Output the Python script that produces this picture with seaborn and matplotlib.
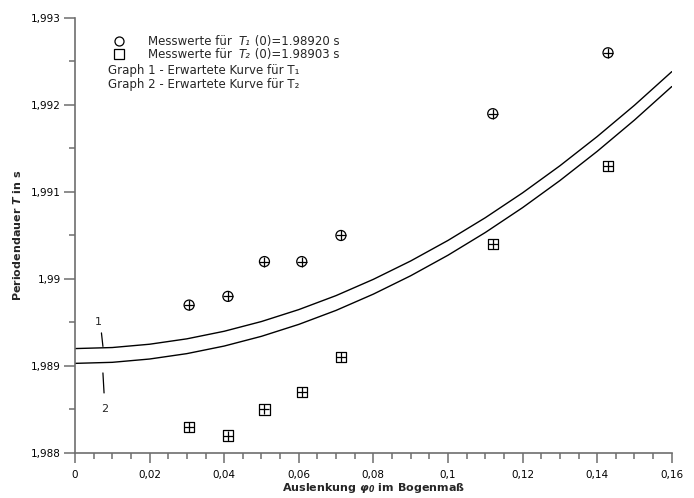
"""
Periodendauer eines Pendels in Abhängigkeit von der Auslenkung
Messwerte und erwartete Kurven
"""

import numpy as np
import pandas as pd
import matplotlib
matplotlib.use('Agg')
import matplotlib.pyplot as plt
import seaborn as sns
from matplotlib.ticker import MultipleLocator, FuncFormatter

phi_mess = [0.0306, 0.0410, 0.0508, 0.0608, 0.0713, 0.1120, 0.1429]
t1_mess = [1.9897, 1.9898, 1.9902, 1.9902, 1.9905, 1.9919, 1.9926]
t2_mess = [1.9883, 1.9882, 1.9885, 1.9887, 1.9891, 1.9904, 1.9913]

phi_kurve = [0.00, 0.01, 0.02, 0.03, 0.04, 0.05, 0.06, 0.07, 0.08,
             0.09, 0.10, 0.11, 0.12, 0.13, 0.14, 0.15, 0.16]
t1_kurve = [1.989200, 1.989212, 1.989250, 1.989312, 1.989399, 1.989511,
            1.989648, 1.989809, 1.989996, 1.990207, 1.990443, 1.990704,
            1.990990, 1.991301, 1.991637, 1.991997, 1.992383]
t2_kurve = [1.989030, 1.989042, 1.989080, 1.989142, 1.989229, 1.989341,
            1.989478, 1.989639, 1.989826, 1.990037, 1.990273, 1.990534,
            1.990820, 1.991131, 1.991467, 1.991827, 1.992212]

sns.set_theme(style='ticks')
plt.rcParams['font.family'] = ['DejaVu Sans']
plt.rcParams['mathtext.fontset'] = 'custom'
plt.rcParams['mathtext.rm'] = 'DejaVu Sans'
plt.rcParams['mathtext.it'] = 'DejaVu Sans:italic'
plt.rcParams['mathtext.bf'] = 'DejaVu Sans:italic:bold'

achse = '#6e6e6e'

fig = plt.figure(figsize=(6.94, 4.98), dpi=100)
ax = fig.add_axes([0.108, 0.0904, 0.860, 0.8735])

df_mess = pd.DataFrame({'phi': phi_mess, 't1': t1_mess, 't2': t2_mess})
df_kurve = pd.DataFrame({'phi': phi_kurve, 't1': t1_kurve, 't2': t2_kurve})

sns.lineplot(data=df_kurve, x='phi', y='t1', color='black', linewidth=1.0, ax=ax)
sns.lineplot(data=df_kurve, x='phi', y='t2', color='black', linewidth=1.0, ax=ax)

# Kreise mit Kreuz
sns.scatterplot(data=df_mess, x='phi', y='t1', marker='o', s=52,
                facecolors='none', edgecolor='black', linewidth=0.9, ax=ax)
sns.scatterplot(data=df_mess, x='phi', y='t1', marker='+', s=52,
                color='black', linewidth=0.9, ax=ax)
# Quadrate mit Kreuz
sns.scatterplot(data=df_mess, x='phi', y='t2', marker='s', s=55,
                facecolors='none', edgecolor='black', linewidth=0.9, ax=ax)
sns.scatterplot(data=df_mess, x='phi', y='t2', marker='+', s=55,
                color='black', linewidth=0.9, ax=ax)

# Beschriftung der Kurven
ax.plot([0.0071, 0.0075], [1.989380, 1.989225], color='black', linewidth=0.9)
ax.plot([0.0075, 0.0078], [1.988920, 1.988690], color='black', linewidth=0.9)
ax.text(0.0064, 1.98950, '1', fontsize=8, ha='center', va='center')
ax.text(0.0080, 1.98850, '2', fontsize=8, ha='center', va='center')

ax.set_xlim(0, 0.16)
ax.set_ylim(1.988, 1.993)
ax.xaxis.set_major_locator(MultipleLocator(0.02))
ax.xaxis.set_minor_locator(MultipleLocator(0.005))
ax.yaxis.set_major_locator(MultipleLocator(0.001))
ax.yaxis.set_minor_locator(MultipleLocator(0.0005))
komma = FuncFormatter(lambda v, pos: ('%g' % v).replace('.', ','))
ax.xaxis.set_major_formatter(komma)
ax.yaxis.set_major_formatter(komma)

sns.despine(ax=ax)
for s in ['left', 'bottom']:
    ax.spines[s].set_color(achse)
    ax.spines[s].set_linewidth(1.2)
ax.tick_params(axis='x', which='major', length=7.5, width=1.1, color=achse,
               labelsize=7.5, pad=4.5, labelcolor='black')
ax.tick_params(axis='x', which='minor', length=4, width=1.1, color=achse)
ax.tick_params(axis='y', which='major', length=8, width=1.1, color=achse,
               labelsize=7.5, pad=2, labelcolor='black')
ax.tick_params(axis='y', which='minor', length=4, width=1.1, color=achse)

ax.set_xlabel(r'Auslenkung $\mathbf{\varphi_0}$ im Bogenmaß', fontsize=8,
              fontweight='bold', labelpad=1)
ax.set_ylabel(r'Periodendauer $\mathbf{T}$ in s', fontsize=8,
              fontweight='bold', labelpad=6)

# Legende von Hand
ax.plot([0.0737], [0.947], marker='o', markersize=6.5, markerfacecolor='none',
        markeredgecolor='black', markeredgewidth=0.9, transform=ax.transAxes,
        clip_on=False)
ax.plot([0.0737], [0.9165], marker='s', markersize=6.5, markerfacecolor='none',
        markeredgecolor='black', markeredgewidth=0.9, transform=ax.transAxes,
        clip_on=False)

messzeilen = [
    (0.1223, 0.939, 'T\u2081', ' (0)=1.98920 s'),
    (0.1223, 0.907, 'T\u2082', ' (0)=1.98903 s'),
]
for x, y, sym, rest in messzeilen:
    t0 = ax.text(x, y, 'Messwerte für', fontsize=8.5, ha='left',
                 va='baseline', transform=ax.transAxes)
    t1 = ax.annotate(sym, xy=(1, 0), xycoords=t0, xytext=(5, 0),
                     textcoords='offset points', fontsize=8.5,
                     fontstyle='italic', ha='left', va='bottom')
    ax.annotate(rest, xy=(1, 0), xycoords=t1, fontsize=8.5,
                ha='left', va='bottom')

graphzeilen = [
    (0.0553, 0.871, 'Graph 1 - Erwartete Kurve für T\u2081'),
    (0.0553, 0.838, 'Graph 2 - Erwartete Kurve für T\u2082'),
]
for x, y, txt in graphzeilen:
    ax.text(x, y, txt, fontsize=8.5, ha='left', va='baseline',
            transform=ax.transAxes)

ax.set_facecolor('white')
fig.patch.set_facecolor('white')
plt.savefig('out.png', dpi=100, facecolor='white')
plt.close()
